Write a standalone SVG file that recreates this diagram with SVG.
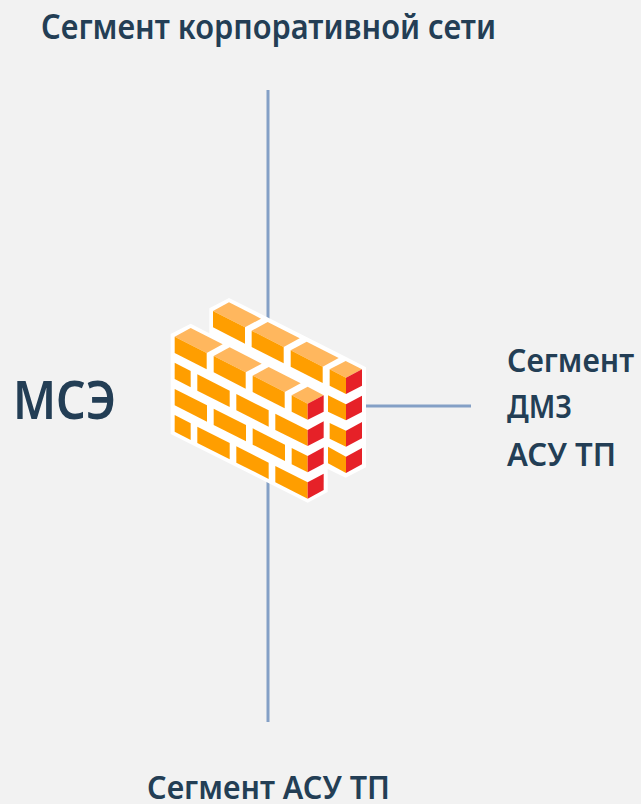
<svg xmlns="http://www.w3.org/2000/svg" width="641" height="804" viewBox="0 0 641 804">
<style>
text{font-family:"Noto Sans","Open Sans",sans-serif;font-weight:600;fill:#233e55}
.t{font-size:35px}
.s{font-size:32px}
.l{stroke:#84a0c6;stroke-width:3;fill:none}
.o{fill:#ff9e00}.h{fill:#ffb75e}.r{fill:#e62128}
</style>
<rect width="641" height="804" fill="#f2f2f2"/>
<g id="connectors">
<line class="l" x1="268" y1="90" x2="268" y2="320"/>
<line class="l" x1="268" y1="480" x2="268" y2="722"/>
<line class="l" x1="360" y1="406" x2="471" y2="406"/>
</g>
<g id="firewall" transform="translate(160 290) scale(0.33333)">
<polygon fill="#fff" points="32,132 92,101 148,130 148,55 207,24 557,200 618,232 618,532 557,563 503,537 503,606 443,638 32,432"/>
<g class="h">
<polygon points="159,63 207,37 303,86 255,112"/><polygon points="275,122 323,96 419,145 371,171"/><polygon points="392,181 440,155 536,204 488,230"/><polygon points="509,238 557,213 606,238 558,263"/>
<polygon points="44,140 92,114 188,163 140,189"/><polygon points="161,198 209,172 305,221 257,247"/><polygon points="278,257 326,231 422,280 374,306"/><polygon points="395,316 443,290 491,316 443,341"/>
</g>
<g class="o">
<polygon points="159,63 255,112 255,161 159,112"/><polygon points="275,122 371,171 371,220 275,171"/><polygon points="392,181 488,230 488,279 392,230"/><polygon points="509,238 558,263 558,312 509,287"/>
<polygon points="504,316 558,343 558,391 504,365"/><polygon points="509,399 558,422 558,470 509,446"/><polygon points="504,470 558,500 558,549 504,520"/>
<polygon points="44,140 140,189 140,238 44,189"/><polygon points="161,198 257,247 257,296 161,247"/><polygon points="278,257 374,306 374,355 278,306"/><polygon points="395,316 443,341 443,389 395,365"/>
<polygon points="44,218 92,243 92,292 44,267"/><polygon points="112,253 209,302 209,351 112,302"/><polygon points="229,312 326,361 326,410 229,361"/><polygon points="346,371 443,420 443,468 346,420"/>
<polygon points="44,297 141,346 141,395 44,346"/><polygon points="161,356 258,405 258,454 161,405"/><polygon points="278,415 375,464 375,513 278,464"/><polygon points="395,474 443,498 443,547 395,523"/>
<polygon points="44,375 92,400 92,450 44,425"/><polygon points="112,410 209,459 209,508 112,459"/><polygon points="229,469 326,518 326,567 229,518"/><polygon points="346,528 443,577 443,626 346,577"/>
</g>
<g class="r">
<polygon points="558,263 606,238 606,287 558,312"/><polygon points="558,343 606,317 606,366 558,391"/><polygon points="558,422 606,396 606,445 558,470"/><polygon points="558,500 606,474 606,523 558,549"/>
<polygon points="443,341 491,316 491,365 443,389"/><polygon points="443,420 491,394 491,443 443,468"/><polygon points="443,498 491,472 491,521 443,547"/><polygon points="443,577 491,551 491,600 443,626"/>
</g>
</g>
<g id="label-corp"><text class="t" x="41" y="39" textLength="455" lengthAdjust="spacingAndGlyphs">Сегмент корпоративной сети</text></g>
<g id="label-mse"><text x="13" y="419" font-size="52" textLength="103" lengthAdjust="spacingAndGlyphs">МСЭ</text></g>
<g id="label-dmz">
<text class="s" x="507" y="372" textLength="127" lengthAdjust="spacingAndGlyphs">Сегмент</text>
<text class="s" x="507" y="418" textLength="65" lengthAdjust="spacingAndGlyphs">ДМЗ</text>
<text class="s" x="507" y="466" textLength="109" lengthAdjust="spacingAndGlyphs">АСУ ТП</text>
</g>
<g id="label-acs"><text class="s" x="147" y="799" textLength="243" lengthAdjust="spacingAndGlyphs">Сегмент АСУ ТП</text></g>
</svg>
